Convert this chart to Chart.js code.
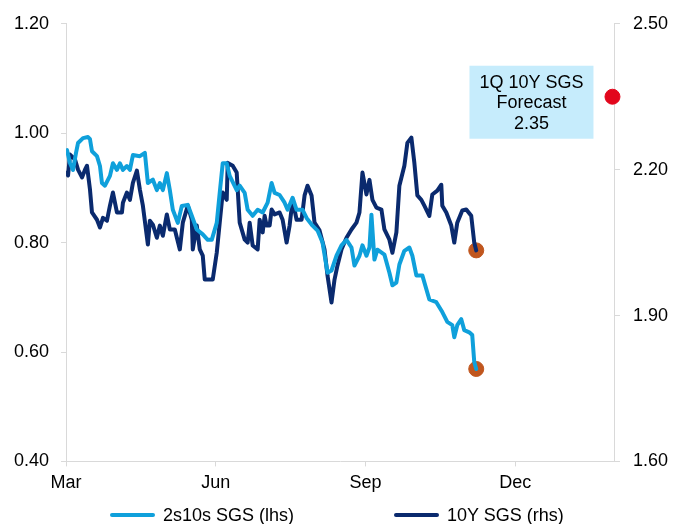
<!DOCTYPE html>
<html>
<head>
<meta charset="utf-8">
<script src="https://cdn.jsdelivr.net/npm/chart.js@4.4.1/dist/chart.umd.min.js"></script>
<style>
  body { margin: 0; background: #fff; }
  #wrap { position: relative; width: 686px; height: 524px; }
  #legend { position: absolute; left: 0; top: 504px; width: 686px; height: 22px;
            display: flex; align-items: center; padding-left: 110px; box-sizing: border-box;
            font: 18px "Liberation Sans", Arial, sans-serif; color: #000; }
  .item { display: flex; align-items: center; margin-right: 100px; }
  .swatch { width: 45px; height: 4px; border-radius: 2px; margin-right: 8px; }
</style>
</head>
<body>
<div id="wrap">
  <canvas id="myChart" width="686" height="524"></canvas>
  <div id="legend"></div>
</div>
<script>
// eixo x em meses desde 1 de marco (0 = Mar, 3 = Jun, 6 = Sep, 9 = Dec)
const monthTicks = [0, 3, 6, 9];
const monthLabels = ['Mar', 'Jun', 'Sep', 'Dec'];

// 2s10s SGS (lhs)
const spreadX = [0.02, 0.08, 0.14, 0.20, 0.24, 0.34, 0.44, 0.48, 0.52, 0.62, 0.68, 0.72, 0.78, 0.88, 0.94,
    1.02, 1.08, 1.14, 1.22, 1.28, 1.34, 1.48, 1.58, 1.64, 1.74, 1.82, 1.88, 1.94, 2.02, 2.08, 2.14,
    2.24, 2.32, 2.44, 2.52, 2.62, 2.74, 2.84, 2.92, 3.02, 3.08, 3.14, 3.22, 3.28, 3.42, 3.48, 3.58,
    3.64, 3.74, 3.84, 3.94, 4.04, 4.12, 4.18, 4.28, 4.38, 4.44, 4.54, 4.62, 4.68, 4.74, 4.82, 4.94,
    5.04, 5.14, 5.24, 5.32, 5.42, 5.52, 5.62, 5.72, 5.78, 5.88, 5.94, 6.02, 6.08, 6.12, 6.18, 6.24,
    6.38, 6.48, 6.54, 6.62, 6.68, 6.78, 6.88, 6.94, 7.02, 7.14, 7.28, 7.42, 7.54, 7.64, 7.74, 7.78,
    7.84, 7.92, 7.98, 8.08, 8.14, 8.18, 8.22];
const spreadY = [0.969, 0.945, 0.933, 0.964, 0.982, 0.991, 0.993, 0.989, 0.967, 0.958, 0.940, 0.909, 0.904, 0.922, 0.945,
    0.933, 0.945, 0.933, 0.940, 0.933, 0.960, 0.958, 0.964, 0.909, 0.915, 0.896, 0.909, 0.896, 0.927, 0.896, 0.860,
    0.836, 0.867, 0.869, 0.849, 0.824, 0.815, 0.805, 0.805, 0.836, 0.891, 0.945, 0.945, 0.922, 0.896, 0.904, 0.891,
    0.860, 0.849, 0.860, 0.855, 0.873, 0.909, 0.891, 0.887, 0.873, 0.860, 0.882, 0.860, 0.860, 0.860, 0.845, 0.831,
    0.822, 0.800, 0.745, 0.749, 0.776, 0.795, 0.805, 0.791, 0.758, 0.776, 0.795, 0.776, 0.791, 0.851, 0.769, 0.787,
    0.778, 0.745, 0.722, 0.727, 0.760, 0.785, 0.791, 0.776, 0.740, 0.740, 0.696, 0.691, 0.673, 0.655, 0.649, 0.627,
    0.649, 0.660, 0.640, 0.636, 0.631, 0.582, 0.569];

// 10Y SGS (rhs)
const yieldX = [0.02, 0.04, 0.08, 0.18, 0.24, 0.32, 0.38, 0.42, 0.48, 0.52, 0.62, 0.68, 0.74, 0.82, 0.88, 0.94,
    1.02, 1.12, 1.14, 1.22, 1.28, 1.34, 1.42, 1.48, 1.54, 1.64, 1.68, 1.74, 1.82, 1.88, 1.94, 2.02, 2.08,
    2.18, 2.28, 2.34, 2.44, 2.52, 2.54, 2.62, 2.68, 2.74, 2.78, 2.94, 3.02, 3.08, 3.14, 3.22, 3.24, 3.34,
    3.42, 3.48, 3.58, 3.64, 3.68, 3.74, 3.84, 3.88, 3.94, 3.98, 4.02, 4.08, 4.12, 4.18, 4.28, 4.34, 4.42,
    4.48, 4.54, 4.62, 4.72, 4.78, 4.84, 4.92, 4.98, 5.08, 5.18, 5.24, 5.32, 5.38, 5.44, 5.52, 5.62, 5.72,
    5.82, 5.88, 5.94, 6.02, 6.08, 6.14, 6.22, 6.32, 6.38, 6.48, 6.54, 6.62, 6.68, 6.78, 6.84, 6.92, 6.98,
    7.04, 7.12, 7.18, 7.28, 7.34, 7.44, 7.52, 7.54, 7.62, 7.72, 7.78, 7.84, 7.94, 8.02, 8.12, 8.18, 8.22];
const yieldY = [2.194, 2.188, 2.231, 2.221, 2.200, 2.184, 2.200, 2.208, 2.159, 2.112, 2.097, 2.081, 2.101, 2.095, 2.126, 2.153,
    2.112, 2.112, 2.132, 2.153, 2.138, 2.173, 2.198, 2.159, 2.126, 2.046, 2.095, 2.087, 2.060, 2.085, 2.064, 2.108, 2.077,
    2.077, 2.036, 2.091, 2.126, 2.097, 2.036, 2.085, 2.036, 2.023, 1.974, 1.974, 2.029, 2.091, 2.153, 2.138, 2.214, 2.208,
    2.194, 2.091, 2.056, 2.050, 2.091, 2.044, 2.036, 2.097, 2.071, 2.105, 2.085, 2.085, 2.118, 2.108, 2.112, 2.097, 2.050,
    2.085, 2.138, 2.097, 2.097, 2.147, 2.167, 2.147, 2.091, 2.075, 2.036, 1.982, 1.927, 1.974, 2.003, 2.036, 2.060, 2.077,
    2.091, 2.112, 2.194, 2.149, 2.179, 2.138, 2.122, 2.118, 2.077, 2.056, 2.029, 2.071, 2.167, 2.208, 2.255, 2.266, 2.214,
    2.147, 2.138, 2.126, 2.105, 2.149, 2.157, 2.169, 2.126, 2.112, 2.085, 2.050, 2.091, 2.116, 2.118, 2.105, 2.050, 2.034];

// previsao 1Q
const forecastX = 10.95;
const forecastValue = 2.35;
const forecastLines = ['1Q 10Y SGS', 'Forecast', forecastValue.toFixed(2)];

const lightBlue = '#0FA0DB';
const navy = '#0A2A6E';
const brown = '#C0561E';
const red = '#E2061C';
const axisGray = '#D9D9D9';
const fontFamily = '"Liberation Sans", Arial, sans-serif';

function pairs(xs, ys) {
    return xs.map((x, i) => ({ x: x, y: ys[i] }));
}

// caixa de texto da previsao, presa ao ponto vermelho
const forecastBox = {
    id: 'forecastBox',
    afterDatasetsDraw(chart) {
        const ctx = chart.ctx;
        const px = chart.scales.x.getPixelForValue(forecastX);
        const py = chart.scales.y2.getPixelForValue(forecastValue);
        const w = 124, h = 73;
        const right = px - 19;
        const top = py - 31;
        ctx.save();
        ctx.fillStyle = '#C6ECFC';
        ctx.fillRect(right - w, top, w, h);
        ctx.fillStyle = '#000';
        ctx.font = '18px ' + fontFamily;
        ctx.textAlign = 'center';
        ctx.textBaseline = 'middle';
        forecastLines.forEach((t, i) => {
            ctx.fillText(t, right - w / 2, top + 17 + i * 20.5);
        });
        ctx.restore();
    }
};

const ctx = document.getElementById('myChart').getContext('2d');
const chart = new Chart(ctx, {
    type: 'line',
    data: {
        datasets: [{
            label: '2s10s SGS (lhs)',
            data: pairs(spreadX, spreadY),
            borderColor: lightBlue,
            backgroundColor: lightBlue,
            borderWidth: 4,
            borderJoinStyle: 'round',
            borderCapStyle: 'round',
            pointRadius: 0,
            tension: 0,
            yAxisID: 'y'
        }, {
            label: '10Y SGS (rhs)',
            data: pairs(yieldX, yieldY),
            borderColor: navy,
            backgroundColor: navy,
            borderWidth: 4,
            borderJoinStyle: 'round',
            borderCapStyle: 'round',
            pointRadius: 0,
            tension: 0,
            yAxisID: 'y2'
        }, {
            label: 'last spread',
            type: 'scatter',
            data: [{ x: spreadX[spreadX.length - 1], y: spreadY[spreadY.length - 1] }],
            backgroundColor: brown,
            borderColor: brown,
            pointRadius: 7.5,
            yAxisID: 'y'
        }, {
            label: 'last yield',
            type: 'scatter',
            data: [{ x: yieldX[yieldX.length - 1], y: yieldY[yieldY.length - 1] }],
            backgroundColor: brown,
            borderColor: brown,
            pointRadius: 7.5,
            yAxisID: 'y2'
        }, {
            label: 'forecast',
            type: 'scatter',
            data: [{ x: forecastX, y: forecastValue }],
            backgroundColor: red,
            borderColor: red,
            pointRadius: 7.5,
            clip: false,
            yAxisID: 'y2'
        }]
    },
    options: {
        responsive: false,
        animation: false,
        layout: { padding: { top: 10, left: 2, right: 5, bottom: 24 } },
        plugins: {
            legend: { display: false },
            tooltip: { enabled: false }
        },
        scales: {
            x: {
                type: 'linear',
                min: 0,
                max: 11,
                afterBuildTicks: (scale) => { scale.ticks = monthTicks.map(v => ({ value: v })); },
                ticks: {
                    autoSkip: false,
                    maxRotation: 0,
                    padding: 6,
                    color: '#000',
                    font: { size: 18, family: fontFamily },
                    callback: (v) => monthLabels[monthTicks.indexOf(v)]
                },
                grid: { drawOnChartArea: false, drawTicks: true, tickLength: 5, color: axisGray },
                border: { color: axisGray, width: 1 }
            },
            y: {
                position: 'left',
                min: 0.4,
                max: 1.2,
                ticks: {
                    stepSize: 0.2,
                    padding: 12,
                    color: '#000',
                    font: { size: 18, family: fontFamily },
                    callback: (v) => v.toFixed(2)
                },
                grid: { drawOnChartArea: false, drawTicks: true, tickLength: 5, color: axisGray },
                border: { color: axisGray, width: 1 }
            },
            y2: {
                position: 'right',
                min: 1.6,
                max: 2.5,
                afterBuildTicks: (scale) => { scale.ticks = [1.6, 1.9, 2.2, 2.5].map(v => ({ value: v })); },
                ticks: {
                    padding: 13,
                    color: '#000',
                    font: { size: 18, family: fontFamily },
                    callback: (v) => v.toFixed(2)
                },
                grid: { drawOnChartArea: false, drawTicks: true, tickLength: 5, color: axisGray },
                border: { color: axisGray, width: 1 }
            }
        }
    },
    plugins: [forecastBox]
});

// legenda em HTML a partir das duas primeiras series
const legendEl = document.getElementById('legend');
chart.data.datasets.slice(0, 2).forEach((ds) => {
    const item = document.createElement('div');
    item.className = 'item';
    const sw = document.createElement('span');
    sw.className = 'swatch';
    sw.style.background = ds.borderColor;
    const txt = document.createElement('span');
    txt.textContent = ds.label;
    item.appendChild(sw);
    item.appendChild(txt);
    legendEl.appendChild(item);
});
</script>
</body>
</html>
